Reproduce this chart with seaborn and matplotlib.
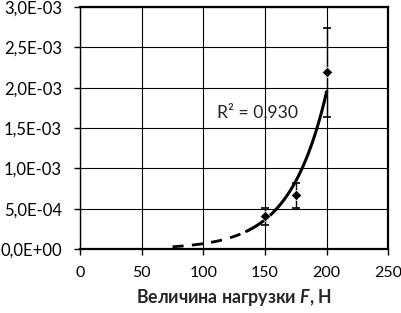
import numpy as np
import matplotlib
matplotlib.use("Agg")
import matplotlib.pyplot as plt
from matplotlib.ticker import FuncFormatter
import seaborn as sns

# measured points (load F in N, value)
load_f = [150, 175, 200]
values = [4.1e-4, 6.7e-4, 2.19e-3]
err_low = [1.1e-4, 1.6e-4, 5.5e-4]
err_high = [1.0e-4, 1.5e-4, 5.5e-4]
r2_label = "R\u00b2 = 0,930"

# range of the trend line: dashed part, then solid part
trend_dashed = [75, 135]
trend_solid = [135, 200]

sns.set_style("white")
plt.rcParams['font.family'] = ['Lato', 'DejaVu Sans']
plt.rcParams['mathtext.fontset'] = 'custom'
plt.rcParams['mathtext.it'] = 'Lato:italic:bold'

fig = plt.figure(figsize=(4.02, 3.13), dpi=100)
ax = fig.add_axes([0.199, 0.204, 0.767, 0.774])

# exponential trend fitted on the measured points
b, a = np.polyfit(load_f, np.log(values), 1)
xd = np.linspace(trend_dashed[0], trend_dashed[1], 60)
xs = np.linspace(trend_solid[0], trend_solid[1], 80)
sns.lineplot(x=xd, y=np.exp(a + b * xd), ax=ax, color="black", lw=2, linestyle=(0, (4, 3)))
sns.lineplot(x=xs, y=np.exp(a + b * xs), ax=ax, color="black", lw=2.2)

ax.errorbar(load_f, values, yerr=[err_low, err_high], fmt="none",
            ecolor="black", elinewidth=1, capsize=3, capthick=1.2)
sns.scatterplot(x=load_f, y=values, ax=ax, marker="D", color="black", s=28, zorder=5)

ax.text(111, 1.70e-3, r2_label, fontsize=12.7, va="center")

ax.set_xlim(0, 250)
ax.set_ylim(0, 3.0e-3)
ax.set_xticks(range(0, 251, 50))
ax.set_yticks(np.arange(0, 3.01e-3, 5e-4))
ax.yaxis.set_major_formatter(FuncFormatter(lambda v, p: f"{v:.1E}".replace(".", ",")))
ax.grid(True, color="black", lw=0.8)
ax.tick_params(axis="both", labelsize=12, direction="out", length=4, width=1,
               bottom=True, left=True, colors="black")
ax.tick_params(axis="x", pad=8, labelsize=11.5)
ax.tick_params(axis="y", pad=9)
for side in ax.spines:
    ax.spines[side].set_color("black")
    ax.spines[side].set_linewidth(1.6)
ax.spines["left"].set_linewidth(1.0)

ax.set_xlabel(r"Величина нагрузки $F$, Н", fontsize=12.8, fontweight="bold", labelpad=5)

fig.savefig("out.png", dpi=100)
